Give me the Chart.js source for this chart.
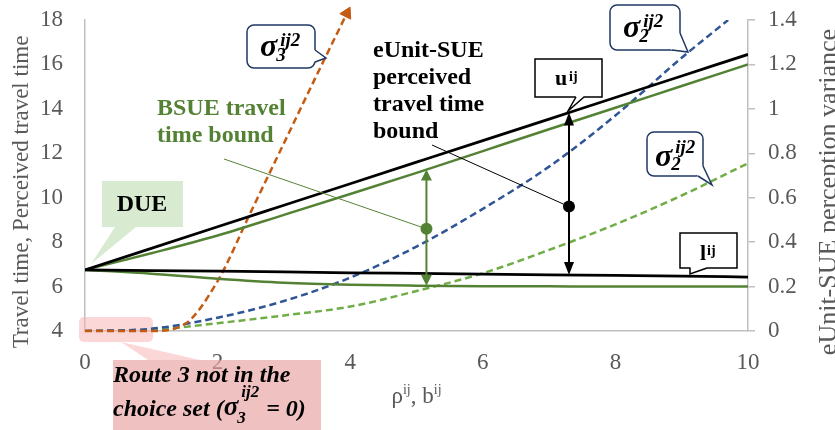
<!DOCTYPE html>
<html>
<head>
<meta charset="utf-8">
<script src="https://cdn.jsdelivr.net/npm/chart.js@4.4.0/dist/chart.umd.min.js"></script>
<style>
  html, body { margin: 0; padding: 0; background: #fff; }
  #wrap { width: 835px; height: 430px; position: relative; }
</style>
</head>
<body>
<div id="wrap"><canvas id="chart" width="835" height="430"></canvas></div>
<script>
// rho (x axis) samples for the travel time bounds
const rho = [0, 1, 2, 3, 4, 5, 6, 7, 8, 9, 10];
const eUnitUpper = [6.75, 7.72, 8.69, 9.66, 10.63, 11.6, 12.57, 13.54, 14.51, 15.48, 16.45];
const eUnitLower = [6.75, 6.72, 6.69, 6.66, 6.62, 6.59, 6.56, 6.53, 6.5, 6.47, 6.43];
const bsueUpper = [6.75, 7.5, 8.3, 9.23, 10.17, 11.12, 12.1, 13.08, 14.05, 15.03, 16.0];
const bsueLower = [6.75, 6.58, 6.35, 6.17, 6.08, 6.04, 6.02, 6.01, 6.0, 6.0, 6.0];

// perception variances (right axis)
const rhoRoute3 = [0, 0.5, 1, 1.5, 2, 2.5, 3, 3.5, 3.95];
const varRoute3 = [0, 0, 0, 0.03, 0.225, 0.535, 0.845, 1.155, 1.43];
const rhoRoute2 = [0, 1, 2, 3, 4, 5, 6, 7, 8, 9, 9.7];
const varRoute2 = [0, 0.01, 0.06, 0.135, 0.24, 0.38, 0.55, 0.74, 0.97, 1.23, 1.4];
const varRoute2Bsue = [0, 0.005, 0.035, 0.07, 0.11, 0.18, 0.26, 0.365, 0.48, 0.61, 0.755];

// tick labels
const xTicks = ['0', '2', '4', '6', '8', '10'];
const leftTicks = ['4', '6', '8', '10', '12', '14', '16', '18'];
const rightTicks = ['0', '0.2', '0.4', '0.6', '0.8', '1', '1.2', '1.4'];

const serif = "'Liberation Serif', 'Times New Roman', serif";
const gray = '#595959';
const axisGray = '#bfbfbf';
const green = '#548235';
const lightGreen = '#70ad47';
const blue = '#2f5597';
const navy = '#203864';
const orange = '#c55a11';

const pts = (xs, ys) => xs.map((x, i) => ({ x: x, y: ys[i] }));
const lerp = (xs, ys, x) => {
    for (let i = 1; i < xs.length; i++) {
        if (x <= xs[i]) {
            const t = (x - xs[i - 1]) / (xs[i] - xs[i - 1]);
            return ys[i - 1] + t * (ys[i] - ys[i - 1]);
        }
    }
    return ys[ys.length - 1];
};

const solid = (data, color, width) => ({
    data: data, borderColor: color, borderWidth: width, pointRadius: 0,
    yAxisID: 'y', cubicInterpolationMode: 'monotone'
});
const dashed = (data, color) => ({
    data: data, borderColor: color, borderWidth: 2.5, borderDash: [7, 4], pointRadius: 0,
    yAxisID: 'y2', cubicInterpolationMode: 'monotone'
});

// arrow marker on the last point of the route 3 curve
const route3 = dashed(pts(rhoRoute3, varRoute3), orange);
route3.clip = false;
route3.pointRadius = ctx => ctx.dataIndex === rhoRoute3.length - 1 ? 7 : 0;
route3.pointStyle = 'triangle';
route3.pointRotation = 27;
route3.pointBackgroundColor = orange;
route3.pointBorderColor = orange;
route3.pointBorderWidth = 1;

// where the bound arrows sit
const eUnitArrowX = 7.3;
const eUnitDotY = 9.6;
const bsueArrowX = 5.15;
const bsueDotY = 8.6;

function roundRectPath(ctx, x, y, w, h, r) {
    ctx.beginPath();
    ctx.moveTo(x + r, y);
    ctx.arcTo(x + w, y, x + w, y + h, r);
    ctx.arcTo(x + w, y + h, x, y + h, r);
    ctx.arcTo(x, y + h, x, y, r);
    ctx.arcTo(x, y, x + w, y, r);
    ctx.closePath();
}

function callout(ctx, box, tail, opt) {
    const [x, y, w, h] = box;
    ctx.save();
    ctx.lineWidth = opt.lw || 1.5;
    ctx.fillStyle = opt.fill;
    roundRectPath(ctx, x, y, w, h, opt.r || 0);
    ctx.fill();
    if (opt.stroke) {
        ctx.strokeStyle = opt.stroke;
        ctx.stroke();
    }
    const cx = x + w / 2, cy = y + h / 2;
    const inward = p => {
        const dx = cx - p[0], dy = cy - p[1], d = Math.hypot(dx, dy);
        return [p[0] + dx / d * 4, p[1] + dy / d * 4];
    };
    const [b1, t, b2] = tail;
    const i1 = inward(b1), i2 = inward(b2);
    ctx.beginPath();
    ctx.moveTo(i1[0], i1[1]);
    ctx.lineTo(b1[0], b1[1]);
    ctx.lineTo(t[0], t[1]);
    ctx.lineTo(b2[0], b2[1]);
    ctx.lineTo(i2[0], i2[1]);
    ctx.closePath();
    ctx.fill();
    if (opt.stroke) {
        ctx.beginPath();
        ctx.moveTo(b1[0], b1[1]);
        ctx.lineTo(t[0], t[1]);
        ctx.lineTo(b2[0], b2[1]);
        ctx.stroke();
    }
    ctx.restore();
}

// sigma with subscript and "ij2" superscript, returns right edge
function sigma(ctx, x, base, sub, size, supSize, supDy, subDy) {
    ctx.font = `italic bold ${size}px ${serif}`;
    ctx.textAlign = 'left';
    ctx.textBaseline = 'alphabetic';
    ctx.fillText('σ', x, base);
    const w = ctx.measureText('σ').width;
    ctx.font = `italic bold ${supSize}px ${serif}`;
    ctx.fillText('ij2', x + w + 3, base + supDy);
    ctx.fillText(sub, x + w - 1, base + subDy);
    return x + w + 3 + ctx.measureText('ij2').width;
}

function vArrow(ctx, x, yTop, yBot, color, head, half) {
    ctx.save();
    ctx.strokeStyle = color;
    ctx.fillStyle = color;
    ctx.lineWidth = 2;
    ctx.beginPath();
    ctx.moveTo(x, yTop + head - 1);
    ctx.lineTo(x, yBot - head + 1);
    ctx.stroke();
    ctx.beginPath();
    ctx.moveTo(x, yTop);
    ctx.lineTo(x - half, yTop + head);
    ctx.lineTo(x + half, yTop + head);
    ctx.closePath();
    ctx.fill();
    ctx.beginPath();
    ctx.moveTo(x, yBot);
    ctx.lineTo(x - half, yBot - head);
    ctx.lineTo(x + half, yBot - head);
    ctx.closePath();
    ctx.fill();
    ctx.restore();
}

const underlay = {
    id: 'underlay',
    beforeDatasetsDraw(chart) {
        const ctx = chart.ctx;
        ctx.save();
        // DUE label
        callout(ctx, [102, 181, 81, 46], [[115, 227], [91, 264], [136, 227]], { fill: '#d8ebd0' });
        ctx.fillStyle = '#000';
        ctx.font = `bold 24px ${serif}`;
        ctx.textAlign = 'center';
        ctx.fillText('DUE', 142, 211);
        // highlight of route 3 zero variance
        ctx.fillStyle = 'rgba(250, 175, 175, 0.5)';
        roundRectPath(ctx, 79, 317, 74, 25, 5);
        ctx.fill();
        ctx.restore();
    }
};

const annotations = {
    id: 'annotations',
    afterDatasetsDraw(chart) {
        const ctx = chart.ctx;
        const sx = chart.scales.x, sy = chart.scales.y;
        ctx.save();

        // eUnit-SUE bound arrow
        const ax = sx.getPixelForValue(eUnitArrowX);
        const aTop = sy.getPixelForValue(lerp(rho, eUnitUpper, eUnitArrowX));
        const aBot = sy.getPixelForValue(lerp(rho, eUnitLower, eUnitArrowX));
        const aDot = sy.getPixelForValue(eUnitDotY);
        vArrow(ctx, ax, aTop, aBot, '#000', 13, 5);
        ctx.strokeStyle = '#000';
        ctx.lineWidth = 1;
        ctx.beginPath();
        ctx.moveTo(432, 145);
        ctx.lineTo(ax, aDot);
        ctx.stroke();
        ctx.fillStyle = '#000';
        ctx.beginPath();
        ctx.arc(ax, aDot, 6, 0, Math.PI * 2);
        ctx.fill();

        // BSUE bound arrow
        const gx = sx.getPixelForValue(bsueArrowX);
        const gTop = sy.getPixelForValue(lerp(rho, bsueUpper, bsueArrowX));
        const gBot = sy.getPixelForValue(lerp(rho, bsueLower, bsueArrowX));
        const gDot = sy.getPixelForValue(bsueDotY);
        vArrow(ctx, gx, gTop, gBot, green, 11, 5.5);
        ctx.strokeStyle = green;
        ctx.lineWidth = 1;
        ctx.beginPath();
        ctx.moveTo(224, 159);
        ctx.lineTo(gx, gDot);
        ctx.stroke();
        ctx.fillStyle = green;
        ctx.beginPath();
        ctx.arc(gx, gDot, 6, 0, Math.PI * 2);
        ctx.fill();

        // texts
        ctx.textAlign = 'left';
        ctx.textBaseline = 'alphabetic';
        ctx.font = `bold 24px ${serif}`;
        ctx.fillStyle = '#000';
        ['eUnit-SUE', 'perceived', 'travel time', 'bound'].forEach((t, i) => {
            ctx.fillText(t, 373, 57 + i * 27);
        });
        ctx.fillStyle = green;
        ['BSUE travel', 'time bound'].forEach((t, i) => {
            ctx.fillText(t, 157, 115 + i * 27);
        });

        // sigma callouts
        callout(ctx, [247, 25, 68, 43], [[315, 50], [326, 58], [315, 62]], { fill: '#fff', stroke: navy, r: 7 });
        callout(ctx, [610, 5, 70, 45], [[680, 33], [688, 52], [672, 50]], { fill: '#fff', stroke: navy, r: 7 });
        callout(ctx, [647, 132, 56, 44], [[703, 166], [712, 185], [698, 176]], { fill: '#fff', stroke: navy, r: 7 });
        ctx.fillStyle = '#000';
        sigma(ctx, 260, 56, '3', 32, 19, -10, 5);
        sigma(ctx, 623, 37, '2', 32, 19, -10, 5);
        sigma(ctx, 655, 166, '2', 32, 19, -13, 4);

        // u and l callouts
        callout(ctx, [535, 59, 67, 38], [[576, 97], [568, 111], [584, 97]], { fill: '#fff', stroke: '#000', lw: 1.5 });
        callout(ctx, [680, 233, 57, 35], [[690, 268], [690, 274], [707, 268]], { fill: '#fff', stroke: '#000', lw: 1.5 });
        ctx.fillStyle = '#000';
        ctx.font = `bold 22px ${serif}`;
        ctx.fillText('u', 555, 85);
        ctx.fillText('l', 700, 260);
        ctx.font = `bold 14px ${serif}`;
        ctx.fillText('ij', 569, 81);
        ctx.fillText('ij', 707, 255);

        ctx.restore();
    },
    afterDraw(chart) {
        const ctx = chart.ctx;
        ctx.save();
        // route 3 note
        ctx.fillStyle = 'rgba(250, 175, 175, 0.5)';
        ctx.beginPath();
        ctx.moveTo(121, 342);
        ctx.lineTo(200, 360);
        ctx.lineTo(148, 360);
        ctx.closePath();
        ctx.fill();
        ctx.fillStyle = 'rgba(232, 160, 160, 0.65)';
        ctx.fillRect(113, 360, 208, 70);
        ctx.fillStyle = '#000';
        ctx.textAlign = 'left';
        ctx.textBaseline = 'alphabetic';
        ctx.font = `italic bold 24px ${serif}`;
        ctx.fillText('Route 3 not in the', 113, 382);
        ctx.fillText('choice set (', 113, 416);
        let x = 113 + ctx.measureText('choice set (').width;
        x = sigma(ctx, x, 415, '3', 27, 17, -18, 8);
        ctx.font = `italic bold 24px ${serif}`;
        ctx.fillText(' = 0)', x + 1, 416);

        // axis titles
        ctx.fillStyle = gray;
        ctx.textAlign = 'center';
        ctx.save();
        ctx.font = `23px ${serif}`;
        ctx.translate(28, 192);
        ctx.rotate(-Math.PI / 2);
        ctx.fillText('Travel time, Perceived travel time', 0, 0);
        ctx.restore();
        ctx.save();
        ctx.font = `26px ${serif}`;
        ctx.translate(836, 192);
        ctx.rotate(-Math.PI / 2);
        ctx.fillText('eUnit-SUE perception variance', 0, 0);
        ctx.restore();

        const parts = [['ρ', 23, 0], ['ij', 14, -9], [', b', 23, 0], ['ij', 14, -9]];
        let total = 0;
        parts.forEach(p => { ctx.font = `${p[1]}px ${serif}`; total += ctx.measureText(p[0]).width; });
        let px = (chart.chartArea.left + chart.chartArea.right) / 2 - total / 2;
        ctx.textAlign = 'left';
        parts.forEach(p => {
            ctx.font = `${p[1]}px ${serif}`;
            ctx.fillText(p[0], px, 403 + p[2]);
            px += ctx.measureText(p[0]).width;
        });
        ctx.restore();
    }
};

// y tick fonts get a small line height so the labels do not push the plot area down
const xTickFont = { family: serif, size: 23 };
const yTickFont = { family: serif, size: 23, lineHeight: 0.6 };

new Chart(document.getElementById('chart'), {
    type: 'line',
    data: {
        datasets: [
            solid(pts(rho, eUnitUpper), '#000', 2.75),
            solid(pts(rho, eUnitLower), '#000', 2.75),
            solid(pts(rho, bsueUpper), green, 2.5),
            solid(pts(rho, bsueLower), green, 2.5),
            route3,
            dashed(pts(rhoRoute2, varRoute2), blue),
            dashed(pts(rho, varRoute2Bsue), lightGreen)
        ]
    },
    options: {
        responsive: false,
        animation: false,
        devicePixelRatio: 1,
        layout: { padding: { top: 20, left: 0, right: 0, bottom: 0 } },
        plugins: { legend: { display: false }, tooltip: { enabled: false } },
        scales: {
            x: {
                type: 'linear', position: 'bottom', min: 0, max: 10,
                ticks: { stepSize: 2, font: xTickFont, color: gray, padding: 10, maxRotation: 0,
                         callback: (v, i) => xTicks[i] },
                grid: { display: false },
                border: { display: true, color: axisGray, width: 1.5 },
                afterFit: s => { s.height = 99; }
            },
            y: {
                position: 'left', min: 4, max: 18,
                ticks: { stepSize: 2, font: yTickFont, color: gray, padding: 0,
                         callback: (v, i) => leftTicks[i] },
                grid: { display: false, tickLength: 22 },
                border: { display: true, color: axisGray, width: 1.5 },
                afterFit: s => { s.width = 85; }
            },
            y2: {
                position: 'right', min: 0, max: 1.4,
                ticks: { stepSize: 0.2, font: yTickFont, color: gray, padding: 13,
                         callback: (v, i) => rightTicks[i] },
                grid: { display: true, drawOnChartArea: false, drawTicks: true, tickLength: 7, color: axisGray, lineWidth: 1.5 },
                border: { display: true, color: axisGray, width: 1.5 },
                afterFit: s => { s.width = 87; }
            }
        }
    },
    plugins: [underlay, annotations]
});
</script>
</body>
</html>
